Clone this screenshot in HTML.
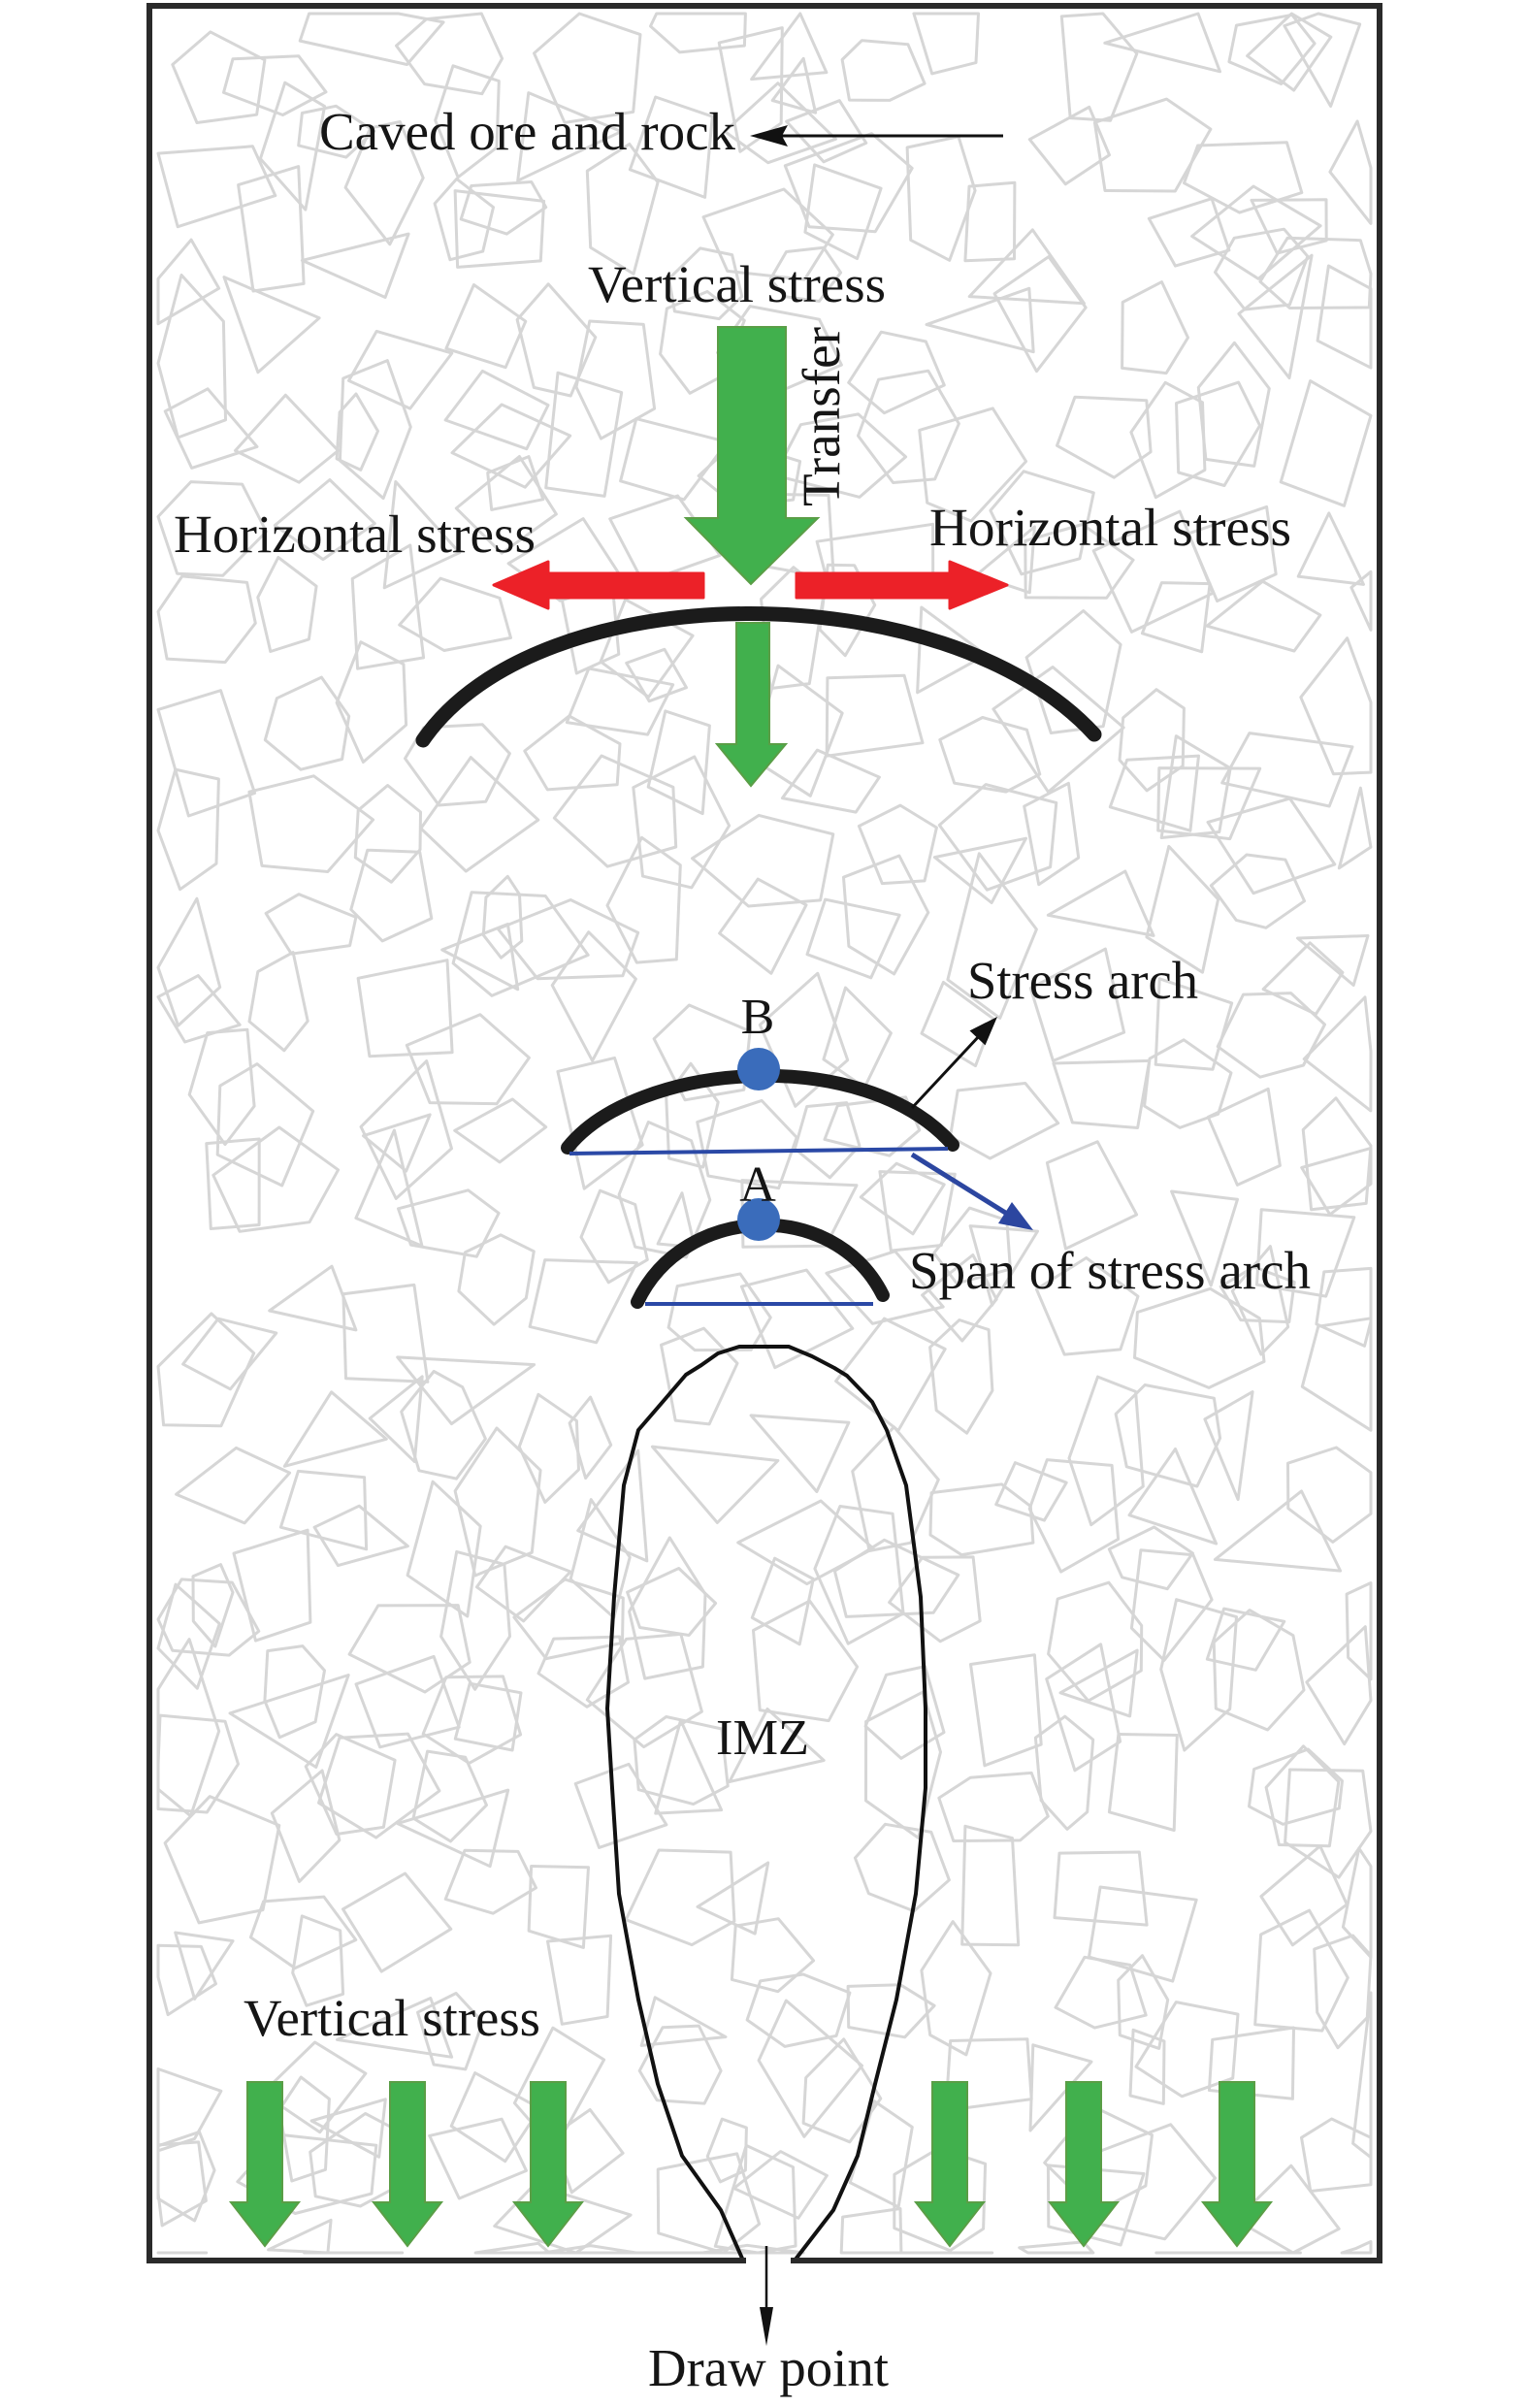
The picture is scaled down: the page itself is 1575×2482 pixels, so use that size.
<!DOCTYPE html>
<html>
<head>
<meta charset="utf-8">
<style>
html,body{margin:0;padding:0;background:#fff;}
svg{display:block;}
text{font-family:"Liberation Serif","Times New Roman",serif;fill:#151515;}
</style>
</head>
<body>
<svg width="1575" height="2482" viewBox="0 0 1575 2482">
<rect x="0" y="0" width="1575" height="2482" fill="#fff"/>
<g id="rocks" fill="none" stroke="#d6d6d6" stroke-width="3" stroke-linejoin="round"></g>

<!-- IMZ outline -->
<path d="M766,2330 L743,2278 L703,2222 L678,2148 L658,2061 L638,1952 L631,1843 L626,1761 L633,1646 L643,1531 L658,1474 L683,1445 L707,1417 L723,1407 L740,1395 L762,1388 L813,1388 L837,1398 L860,1410 L873,1418 L899,1445 L914,1474 L934,1531 L949,1646 L954,1761 L954,1843 L944,1952 L924,2061 L902,2148 L884,2222 L859,2278 L819,2330" fill="none" stroke="#111" stroke-width="4" stroke-linejoin="round"/>

<!-- border -->
<path d="M769,2330 L154,2330 L154,6 L1422,6 L1422,2330 L815,2330" fill="none" stroke="#2a2a2a" stroke-width="6"/>

<!-- big arch -->
<path d="M436,763 C555,590 975,590 1128,757" fill="none" stroke="#1b1b1b" stroke-width="15" stroke-linecap="round"/>
<!-- arch B -->
<path d="M585,1183 C655,1095 890,1075 982,1180" fill="none" stroke="#1b1b1b" stroke-width="14" stroke-linecap="round"/>
<!-- arch A -->
<path d="M657,1342 C705,1240 860,1235 910,1335" fill="none" stroke="#1b1b1b" stroke-width="14" stroke-linecap="round"/>

<!-- span lines -->
<line x1="587" y1="1189" x2="977" y2="1184" stroke="#2b49a6" stroke-width="4"/>
<line x1="665" y1="1344" x2="900" y2="1344" stroke="#2b49a6" stroke-width="4"/>

<!-- dots -->
<circle cx="782" cy="1102" r="22" fill="#3a6cbb"/>
<circle cx="782" cy="1257" r="22" fill="#3a6cbb"/>

<!-- stress arch arrow -->
<line x1="940" y1="1142" x2="1010" y2="1067" stroke="#111" stroke-width="3"/>
<polygon points="1028,1048 1015.5,1077.4 999.5,1062.4" fill="#111"/>
<!-- span arrow -->
<line x1="940" y1="1190" x2="1038" y2="1251" stroke="#2c46a0" stroke-width="5"/>
<polygon points="1065,1268 1029,1261 1043,1239" fill="#2c46a0"/>

<!-- caved ore arrow -->
<line x1="800" y1="140" x2="1034" y2="140" stroke="#111" stroke-width="3"/>
<polygon points="773,140 812,129 806,140 812,151" fill="#111"/>

<!-- draw point arrow -->
<line x1="790" y1="2315" x2="790" y2="2385" stroke="#111" stroke-width="2.5"/>
<polygon points="790,2418 783,2378 797,2378" fill="#111"/>

<!-- green arrows -->
<g fill="#41b04d" stroke="#5a9e46" stroke-width="2" stroke-linejoin="miter">
<polygon points="740,337 810,337 810,534 843,534 774,602 707,534 740,534"/>
<polygon points="759,642 793,642 793,767 810,767 774,810 739,767 759,767"/>
<polygon points="255,2146 291,2146 291,2270 308,2270 273,2315 238,2270 255,2270"/>
<polygon points="402,2146 438,2146 438,2270 455,2270 420,2315 385,2270 402,2270"/>
<polygon points="547,2146 583,2146 583,2270 600,2270 565,2315 530,2270 547,2270"/>
<polygon points="961,2146 997,2146 997,2270 1014,2270 979,2315 944,2270 961,2270"/>
<polygon points="1099,2146 1135,2146 1135,2270 1152,2270 1117,2315 1082,2270 1099,2270"/>
<polygon points="1257,2146 1293,2146 1293,2270 1310,2270 1275,2315 1240,2270 1257,2270"/>
</g>

<!-- red arrows -->
<g fill="#ec2128" stroke="#ec2128" stroke-width="3" stroke-linejoin="round">
<polygon points="725,591 565,591 565,579 509,603 565,627 565,616 725,616"/>
<polygon points="821,591 979,591 979,579 1038,603 979,627 979,616 821,616"/>
</g>

<!-- texts -->
<text x="329" y="154" font-size="55" textLength="429" lengthAdjust="spacingAndGlyphs">Caved ore and rock</text>
<text x="606" y="311" font-size="54" textLength="307" lengthAdjust="spacingAndGlyphs">Vertical stress</text>
<text transform="translate(865,522) rotate(-90)" font-size="55" textLength="185" lengthAdjust="spacingAndGlyphs">Transfer</text>
<text x="179" y="569" font-size="55" textLength="373" lengthAdjust="spacingAndGlyphs">Horizontal stress</text>
<text x="958" y="562" font-size="55" textLength="373" lengthAdjust="spacingAndGlyphs">Horizontal stress</text>
<text x="997" y="1029" font-size="55" textLength="238" lengthAdjust="spacingAndGlyphs">Stress arch</text>
<text x="781" y="1065" font-size="52" text-anchor="middle">B</text>
<text x="781" y="1238" font-size="52" text-anchor="middle">A</text>
<text x="937" y="1328" font-size="55" textLength="414" lengthAdjust="spacingAndGlyphs">Span of stress arch</text>
<text x="738" y="1808" font-size="52" textLength="96" lengthAdjust="spacingAndGlyphs">IMZ</text>
<text x="251" y="2098" font-size="54" textLength="306" lengthAdjust="spacingAndGlyphs">Vertical stress</text>
<text x="668" y="2459" font-size="55" textLength="248" lengthAdjust="spacingAndGlyphs">Draw point</text>
</svg>
<script>
(function(){
  var s=987654321;
  function r(){s=(s*16807)%2147483647;return (s-1)/2147483646;}
  var X0=163,X1=1413,Y0=14,Y1=2322;
  function cl(v,a,b){return v<a?a:(v>b?b:v);}
  var out=[];
  function poly(cx,cy,R){
    var ns=[3,4,4,4,5,5,5,6];
    var n=ns[Math.floor(r()*ns.length)];
    var rot=r()*Math.PI*2;
    var sx=0.7+r()*0.6;
    var pts=[];
    for(var i=0;i<n;i++){
      var a=rot+i*2*Math.PI/n+(r()-0.5)*(Math.PI/n)*0.7;
      var rr=R*(0.78+r()*0.22);
      var x=cl(cx+Math.cos(a)*rr*sx,X0,X1);
      var y=cl(cy+Math.sin(a)*rr/sx,Y0,Y1);
      pts.push(x.toFixed(1)+','+y.toFixed(1));
    }
    out.push('<polygon points="'+pts.join(' ')+'"/>');
  }
  var st=100;
  for(var gy=Y0-10;gy<Y1;gy+=st){
    for(var gx=X0-10;gx<X1;gx+=st){
      poly(gx+st*0.1+r()*st*0.8,gy+st*0.1+r()*st*0.8,44+r()*28);
    }
  }
  for(var k=0;k<60;k++){
    poly(X0+r()*(X1-X0),Y0+r()*(Y1-Y0),32+r()*32);
  }
  document.getElementById('rocks').innerHTML=out.join('');
})();
</script>
</body>
</html>
